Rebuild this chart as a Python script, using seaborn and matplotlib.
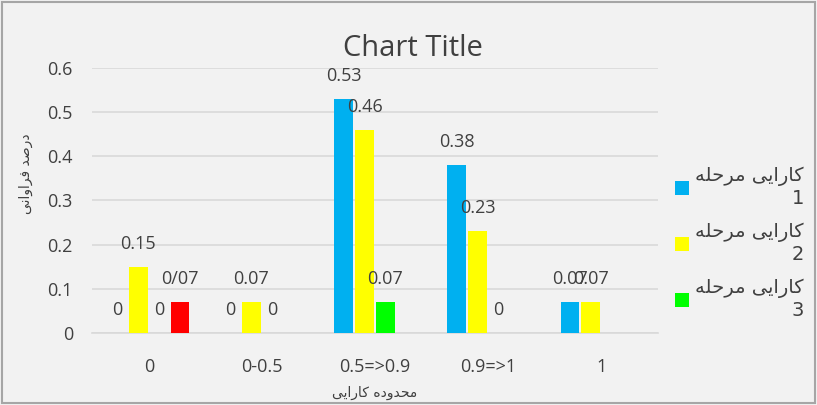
import numpy as np
import pandas as pd
import matplotlib
matplotlib.use("Agg")
import matplotlib.pyplot as plt
import seaborn as sns
from matplotlib.patches import Patch, Rectangle

# -------------------------------
# Data
# -------------------------------
categories = ["0", "0-0.5", "0.5=>0.9", "0.9=>1", "1"]
series_names = ["کارایی مرحله 1", "کارایی مرحله 2", "کارایی مرحله 3", "کارایی مرحله 4"]

stage1 = [0, 0, 0.53, 0.38, 0.07]
stage2 = [0.15, 0.07, 0.46, 0.23, 0.07]
stage3 = [0, 0, 0.07, 0, np.nan]
stage4 = [0.07, np.nan, np.nan, np.nan, np.nan]

labels1 = ["0", "0", "0.53", "0.38", "0.07"]
labels2 = ["0.15", "0.07", "0.46", "0.23", "0.07"]
labels3 = ["0", "0", "0.07", "0", ""]
labels4 = ["0/07", "", "", "", ""]

colors = ["#00b0f0", "#ffff00", "#00ff00", "#ff0000"]
yticks = [0, 0.1, 0.2, 0.3, 0.4, 0.5, 0.6]
ytick_labels = ["0", "0.1", "0.2", "0.3", "0.4", "0.5", "0.6"]

title = "Chart Title"
x_title = "محدوده کارایی"
y_title = "درصد فراوانی"

# -------------------------------
# Minimal Persian shaping (matplotlib does not join letters / do RTL)
# -------------------------------
FORMS = {
    "ا": ("\uFE8D", "\uFE8E", None, None),
    "د": ("\uFEA9", "\uFEAA", None, None),
    "ر": ("\uFEAD", "\uFEAE", None, None),
    "و": ("\uFEED", "\uFEEE", None, None),
    "ک": ("\uFB8E", "\uFB8F", "\uFB90", "\uFB91"),
    "ی": ("\uFBFC", "\uFBFD", "\uFBFE", "\uFBFF"),
    "م": ("\uFEE1", "\uFEE2", "\uFEE3", "\uFEE4"),
    "ح": ("\uFEA1", "\uFEA2", "\uFEA3", "\uFEA4"),
    "ل": ("\uFEDD", "\uFEDE", "\uFEDF", "\uFEE0"),
    "ه": ("\uFEE9", "\uFEEA", "\uFEEB", "\uFEEC"),
    "ص": ("\uFEB9", "\uFEBA", "\uFEBB", "\uFEBC"),
    "ف": ("\uFED1", "\uFED2", "\uFED3", "\uFED4"),
    "ن": ("\uFEE5", "\uFEE6", "\uFEE7", "\uFEE8"),
}


def joins_next(ch):
    return ch in FORMS and FORMS[ch][2] is not None


def shape_line(text):
    out = []
    for i, ch in enumerate(text):
        if ch not in FORMS:
            out.append(ch)
            continue
        prev_j = i > 0 and joins_next(text[i - 1])
        next_j = i < len(text) - 1 and text[i + 1] in FORMS and joins_next(ch)
        iso, fin, ini, med = FORMS[ch]
        if prev_j and next_j:
            out.append(med)
        elif prev_j:
            out.append(fin)
        elif next_j:
            out.append(ini)
        else:
            out.append(iso)
    return "".join(out)[::-1]


def fa(text):
    return "\n".join(shape_line(line) for line in text.split("\n"))


# -------------------------------
# Build long table
# -------------------------------
rows = []
for name, vals in zip(series_names, [stage1, stage2, stage3, stage4]):
    for cat, v in zip(categories, vals):
        rows.append({"category": cat, "series": name, "value": v})
df = pd.DataFrame(rows)

sns.set_theme(style="white")
plt.rcParams["font.family"] = ["Open Sans", "DejaVu Sans"]

fig = plt.figure(figsize=(8.17, 4.05), dpi=100)
fig.patch.set_facecolor("#f2f2f2")
ax = fig.add_axes([0.113, 0.178, 0.692, 0.654])
ax.set_facecolor("#f2f2f2")

sns.barplot(data=df, x="category", y="value", hue="series",
            order=categories, hue_order=series_names,
            palette=colors, width=0.74, gap=0.12, saturation=1,
            linewidth=0, legend=False, ax=ax, zorder=3)

# data labels
all_labels = [labels1, labels2, labels3, labels4]
for cont, labs in zip(ax.containers, all_labels):
    for bar in cont:
        h = bar.get_height()
        if np.isnan(h):
            continue
        idx = int(round(bar.get_x() + bar.get_width() / 2))
        txt = labs[idx]
        if not txt:
            continue
        ax.annotate(txt, (bar.get_x() + bar.get_width() / 2, h),
                    xytext=(0, 10), textcoords="offset points",
                    ha="center", va="bottom", fontsize=13, color="#404040")

ax.set_ylim(0, 0.6)
ax.set_xlim(-0.5, len(categories) - 0.5)
ax.set_yticks(yticks)
ax.set_yticklabels(ytick_labels)
ax.yaxis.grid(True, color="#d9d9d9", linewidth=1.2, zorder=0)
ax.set_axisbelow(True)
for s in ["left", "right", "top"]:
    ax.spines[s].set_visible(False)
ax.spines["bottom"].set_color("#d9d9d9")
ax.spines["bottom"].set_linewidth(1.2)
ax.tick_params(axis="both", length=0, labelsize=13, colors="#404040")
ax.tick_params(axis="y", pad=14)
ax.tick_params(axis="x", pad=18)

ax.set_xlabel(fa(x_title), fontsize=10, color="#404040", family=["DejaVu Sans"])
ax.xaxis.set_label_coords(0.5, -0.2)
ax.set_ylabel(fa(y_title), fontsize=10, color="#404040", family=["DejaVu Sans"])
ax.yaxis.set_label_coords(-0.105, 0.6)

fig.text(0.505, 0.88, title, ha="center", va="center", fontsize=21, color="#404040")

handles = [Patch(facecolor=c, edgecolor="none") for c in colors[:3]]
leg_labels = [fa("کارایی مرحله\n" + n.split()[-1]) for n in series_names[:3]]
leg = fig.legend(handles, leg_labels, loc="center left",
                 bbox_to_anchor=(0.826, 0.40), frameon=False,
                 fontsize=14, handlelength=0.75, handleheight=0.75,
                 handletextpad=0.3, labelspacing=0.75,
                 borderpad=0, borderaxespad=0)
for t in leg.get_texts():
    t.set_multialignment("right")
    t.set_color("#404040")
    t.set_family(["DejaVu Sans"])

fig.add_artist(Rectangle((0.003, 0.005), 0.994, 0.99, transform=fig.transFigure,
                         fill=False, edgecolor="#a6a6a6", linewidth=1.5))

plt.savefig("out.png", dpi=100, facecolor=fig.get_facecolor())
plt.close()
